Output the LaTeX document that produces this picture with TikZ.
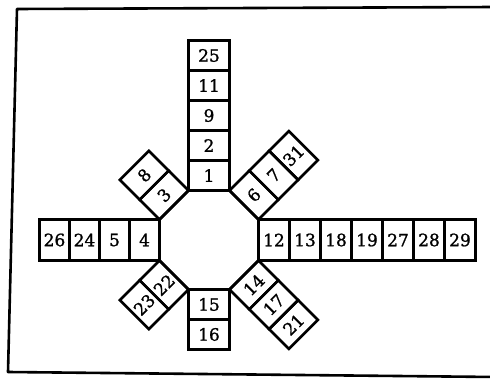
\documentclass[tikz,border=0pt]{standalone}
\usepackage{fontspec}
\setmainfont[FakeBold=1.2]{DejaVu Serif}
\usetikzlibrary{shapes.geometric}
\begin{document}
\begin{tikzpicture}[x=1pt,y=1pt,
  cell/.style={draw, line width=2.6pt, inner sep=0pt, font=\fontsize{17}{17}\selectfont},
  vcell/.style={cell, minimum width=41pt, minimum height=30pt},
  hcell/.style={cell, minimum width=30pt, minimum height=41pt},
  rcell/.style={cell, minimum width=31pt, minimum height=41pt},
  acell/.style={cell, rotate=45, minimum width=28pt, minimum height=41pt},
  ccell/.style={cell, rotate=45, minimum width=41pt, minimum height=28pt},
  frame/.style={line width=2.6pt, line join=round}
]
\useasboundingbox (0,0) rectangle (490,-379);
\coordinate (C) at (209,-240);
\coordinate (f1) at (495,-7);
\coordinate (f2) at (17,-9);
\coordinate (f3) at (8,-372);
\coordinate (f4) at (495,-377);
\draw[frame] (f1) -- (f2) -- (f3) -- (f4);
\node[draw, line width=2.6pt, regular polygon, regular polygon sides=8, minimum size=107.1pt, inner sep=0pt] (O) at (C) {};
% top arm
\node[vcell] (n1)  at ([shift={(0,64.5)}]C) {1};
\node[vcell] (n2)  at ([shift={(0,94.5)}]C) {2};
\node[vcell] (n9)  at ([shift={(0,124.5)}]C) {9};
\node[vcell] (n11) at ([shift={(0,154.5)}]C) {11};
\node[vcell] (n25) at ([shift={(0,184.5)}]C) {25};
% bottom arm
\node[vcell] (n15) at ([shift={(0,-64.5)}]C) {15};
\node[vcell] (n16) at ([shift={(0,-94.5)}]C) {16};
% left arm
\node[hcell] (n4)  at ([shift={(-64.5,0)}]C) {4};
\node[hcell] (n5)  at ([shift={(-94.5,0)}]C) {5};
\node[hcell] (n24) at ([shift={(-124.5,0)}]C) {24};
\node[hcell] (n26) at ([shift={(-154.5,0)}]C) {26};
% right arm
\node[rcell] (n12) at ([shift={(65,0)}]C) {12};
\node[rcell] (n13) at ([shift={(96,0)}]C) {13};
\node[rcell] (n18) at ([shift={(127,0)}]C) {18};
\node[rcell] (n19) at ([shift={(158,0)}]C) {19};
\node[rcell] (n27) at ([shift={(189,0)}]C) {27};
\node[rcell] (n28) at ([shift={(220,0)}]C) {28};
\node[rcell] (n29) at ([shift={(251,0)}]C) {29};
% NE arm
\node[acell] (n6)  at ([shift={(45:63.5)}]C) {6};
\node[acell] (n7)  at ([shift={(45:91.5)}]C) {7};
\node[acell] (n31) at ([shift={(45:119.5)}]C) {31};
% NW arm
\node[ccell] (n3)  at ([shift={(135:63.5)}]C) {3};
\node[ccell] (n8)  at ([shift={(135:91.5)}]C) {8};
% SW arm
\node[acell] (n22) at ([shift={(225:63.5)}]C) {22};
\node[acell] (n23) at ([shift={(225:91.5)}]C) {23};
% SE arm
\node[ccell] (n14) at ([shift={(315:63.5)}]C) {14};
\node[ccell] (n17) at ([shift={(315:91.5)}]C) {17};
\node[ccell] (n21) at ([shift={(315:119.5)}]C) {21};
\end{tikzpicture}
\end{document}
